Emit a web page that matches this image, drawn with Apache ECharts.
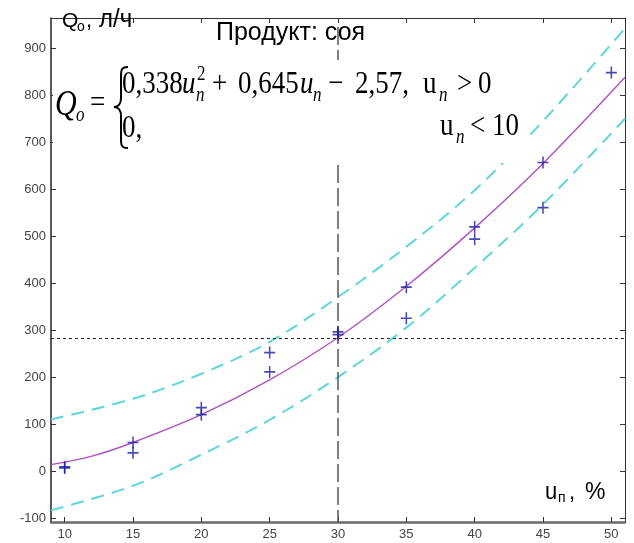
<!DOCTYPE html>
<html>
<head>
<meta charset="utf-8">
<script src="https://cdn.jsdelivr.net/npm/echarts@6/dist/echarts.min.js"></script>
<style>
  html, body { margin: 0; padding: 0; background: #fff; }
  #chart { width: 634px; height: 543px; }
</style>
</head>
<body>
<div id="chart"></div>
<script>
// data
var xTicks = [10, 15, 20, 25, 30, 35, 40, 45, 50];
var yTicks = [-100, 0, 100, 200, 300, 400, 500, 600, 700, 800, 900];

// experimental points (u, Q)
var ptU = [10, 10, 15, 15, 20, 20, 25, 25, 30, 30, 35, 35, 40, 40, 45, 45, 50];
var ptQ = [10, 8, 62, 40, 136, 121, 253, 212, 297, 291, 392, 326, 520, 494, 657, 561, 848];

// fitted curve
var fitU = [9, 12, 15, 20, 25, 30, 35, 40, 45, 51];
var fitQ = [15, 33, 62, 121, 195, 285, 394, 518, 655, 838];

// confidence band
var upU = [9, 15, 20, 25, 30, 35, 40, 45, 51];
var upQ = [111, 155, 208, 276, 371, 478, 598, 745, 942];
var loU = [9, 15, 20, 25, 30, 35, 40, 45, 51];
var loQ = [-82, -30, 36, 110, 201, 306, 433, 568, 750];

var refU = 30;
var refQ = 284;

function pairs(a, b) {
  var out = [];
  for (var i = 0; i < a.length; i++) out.push([a[i], b[i]]);
  return out;
}

var chart = echarts.init(document.getElementById('chart'));

// text placed by its baseline, sy stretches it vertically
function txt(x, base, s, size, family, italic, sy) {
  return {
    type: 'text', z: 100,
    x: x, y: base, scaleY: sy || 1,
    style: {
      x: 0, y: -0.35 * size,
      text: s,
      font: (italic ? 'italic ' : '') + size + 'px ' + family,
      fill: '#000',
      align: 'left', textAlign: 'left',
      verticalAlign: 'middle', textVerticalAlign: 'middle'
    }
  };
}
function bz(x1, y1, c1x, c1y, c2x, c2y, x2, y2) {
  return {
    type: 'bezierCurve', z: 100,
    shape: { x1: x1, y1: y1, cpx1: c1x, cpy1: c1y, cpx2: c2x, cpy2: c2y, x2: x2, y2: y2 },
    style: { stroke: '#000', lineWidth: 2, fill: null }
  };
}
function ln(x1, y1, x2, y2) {
  return {
    type: 'line', z: 100,
    shape: { x1: x1, y1: y1, x2: x2, y2: y2 },
    style: { stroke: '#000', lineWidth: 2 }
  };
}
var SANS = '"Liberation Sans", Arial, sans-serif';
var SERIF = '"Liberation Serif", "Times New Roman", serif';
var F = 27, FS = 17, SY = 1.18;

var graphics = [
  { type: 'rect', z: 90, shape: { x: 53, y: 60, width: 474, height: 103 }, style: { fill: '#fff' } },
  txt(62, 29, 'Q', 21, SANS),
  txt(77, 32, 'o', 14, SANS),
  txt(86, 29, ',', 22, SANS),
  txt(99, 29, 'л/ч', 24, SANS, false, 1.05),
  txt(216, 42, 'Продукт: соя', 25, SANS),
  txt(545, 501, 'u', 22, SANS, false, 1.1),
  txt(558, 503, 'п', 14, SANS),
  txt(569, 501, ',', 22, SANS),
  txt(585, 501, '%', 23, SANS),
  // formula
  txt(55, 118, 'Q', 30, SERIF, true, SY),
  txt(76, 123, 'o', FS, SERIF, true, SY),
  txt(90, 115, '=', F, SERIF, false, SY),
  bz(128, 67, 121, 67, 121, 70, 121, 78),
  ln(121, 78, 121, 98),
  bz(121, 98, 121, 104, 118, 107, 114, 107),
  bz(114, 107, 118, 107, 121, 110, 121, 116),
  ln(121, 116, 121, 138),
  bz(121, 138, 121, 145, 121, 148, 128, 148),
  txt(122, 96, '0,338', F, SERIF, false, SY),
  txt(182, 96, 'u', F, SERIF, true, SY),
  txt(197, 82, '2', FS, SERIF, false, SY),
  txt(196, 103, 'n', FS, SERIF, true, SY),
  txt(212, 96, '+', F, SERIF, false, SY),
  txt(238, 96, '0,645', F, SERIF, false, SY),
  txt(300, 96, 'u', F, SERIF, true, SY),
  txt(313, 103, 'n', FS, SERIF, true, SY),
  txt(328, 96, '\u2212', F, SERIF, false, SY),
  txt(355, 96, '2,57,', F, SERIF, false, SY),
  txt(423, 96, 'u', F, SERIF, false, SY),
  txt(439, 103, 'n', FS, SERIF, true, SY),
  txt(457, 96, '>', F, SERIF, false, SY),
  txt(478, 96, '0', F, SERIF, false, SY),
  txt(122, 140, '0,', F, SERIF, false, SY),
  txt(440, 138, 'u', F, SERIF, false, SY),
  txt(456, 145, 'n', FS, SERIF, true, SY),
  txt(470, 138, '<', F, SERIF, false, SY),
  txt(492, 138, '10', F, SERIF, false, SY)
];

var tickLbl = { color: '#444', fontSize: 13, fontFamily: SANS };

var option = {
  animation: false,
  backgroundColor: '#fff',
  grid: { left: 51, right: 9, top: 18, bottom: 21 },
  xAxis: [
    {
      type: 'value', min: 9, max: 51, position: 'bottom',
      axisLine: { onZero: false, lineStyle: { color: '#6a6a6a', width: 2.5 } },
      axisTick: { inside: true, length: 5, lineStyle: { color: '#333' }, customValues: xTicks },
      axisLabel: Object.assign({ margin: 6, customValues: xTicks }, tickLbl),
      splitLine: { show: false }
    },
    {
      type: 'value', min: 9, max: 51, position: 'top',
      axisLine: { onZero: false, lineStyle: { color: '#333', width: 1 } },
      axisTick: { inside: true, length: 5, lineStyle: { color: '#333' }, customValues: xTicks },
      axisLabel: { show: false },
      splitLine: { show: false }
    }
  ],
  yAxis: [
    {
      type: 'value', min: -107, max: 964, position: 'left',
      axisLine: { onZero: false, lineStyle: { color: '#222', width: 1.5 } },
      axisTick: { inside: true, length: 5, lineStyle: { color: '#333' }, customValues: yTicks },
      axisLabel: Object.assign({ margin: 5, customValues: yTicks }, tickLbl),
      splitLine: { show: false }
    },
    {
      type: 'value', min: -107, max: 964, position: 'right',
      axisLine: { onZero: false, lineStyle: { color: '#333', width: 1 } },
      axisTick: { inside: true, length: 5, lineStyle: { color: '#333' }, customValues: yTicks },
      axisLabel: { show: false },
      splitLine: { show: false }
    }
  ],
  series: [
    {
      type: 'line', name: 'upper', data: pairs(upU, upQ),
      smooth: 0.35, showSymbol: false, silent: true,
      lineStyle: { color: '#5fd6dc', width: 2, type: [13, 8] }, z: 3
    },
    {
      type: 'line', name: 'lower', data: pairs(loU, loQ),
      smooth: 0.35, showSymbol: false, silent: true,
      lineStyle: { color: '#5fd6dc', width: 2, type: [13, 8] }, z: 3
    },
    {
      type: 'line', name: 'fit', data: pairs(fitU, fitQ),
      smooth: 0.35, showSymbol: false, silent: true,
      lineStyle: { color: '#b34fc4', width: 1.4 }, z: 4,
      markLine: {
        silent: true, symbol: 'none', label: { show: false },
        data: [
          [{ coord: [9, refQ], lineStyle: { color: '#222', width: 1, type: [3, 3] } }, { coord: [51, refQ] }],
          [{ coord: [refU, 945], lineStyle: { color: '#555', width: 1.5, type: [18, 5] } }, { coord: [refU, -107] }]
        ]
      }
    },
    {
      type: 'scatter', name: 'points', data: pairs(ptU, ptQ),
      symbol: 'path://M4.3,0H5.7V10H4.3ZM0,4.3H10V5.7H0Z',
      symbolSize: [11, 12], silent: true,
      itemStyle: { color: '#1c1ca0' }, z: 5
    }
  ],
  graphic: graphics
};

chart.setOption(option);
</script>
</body>
</html>
